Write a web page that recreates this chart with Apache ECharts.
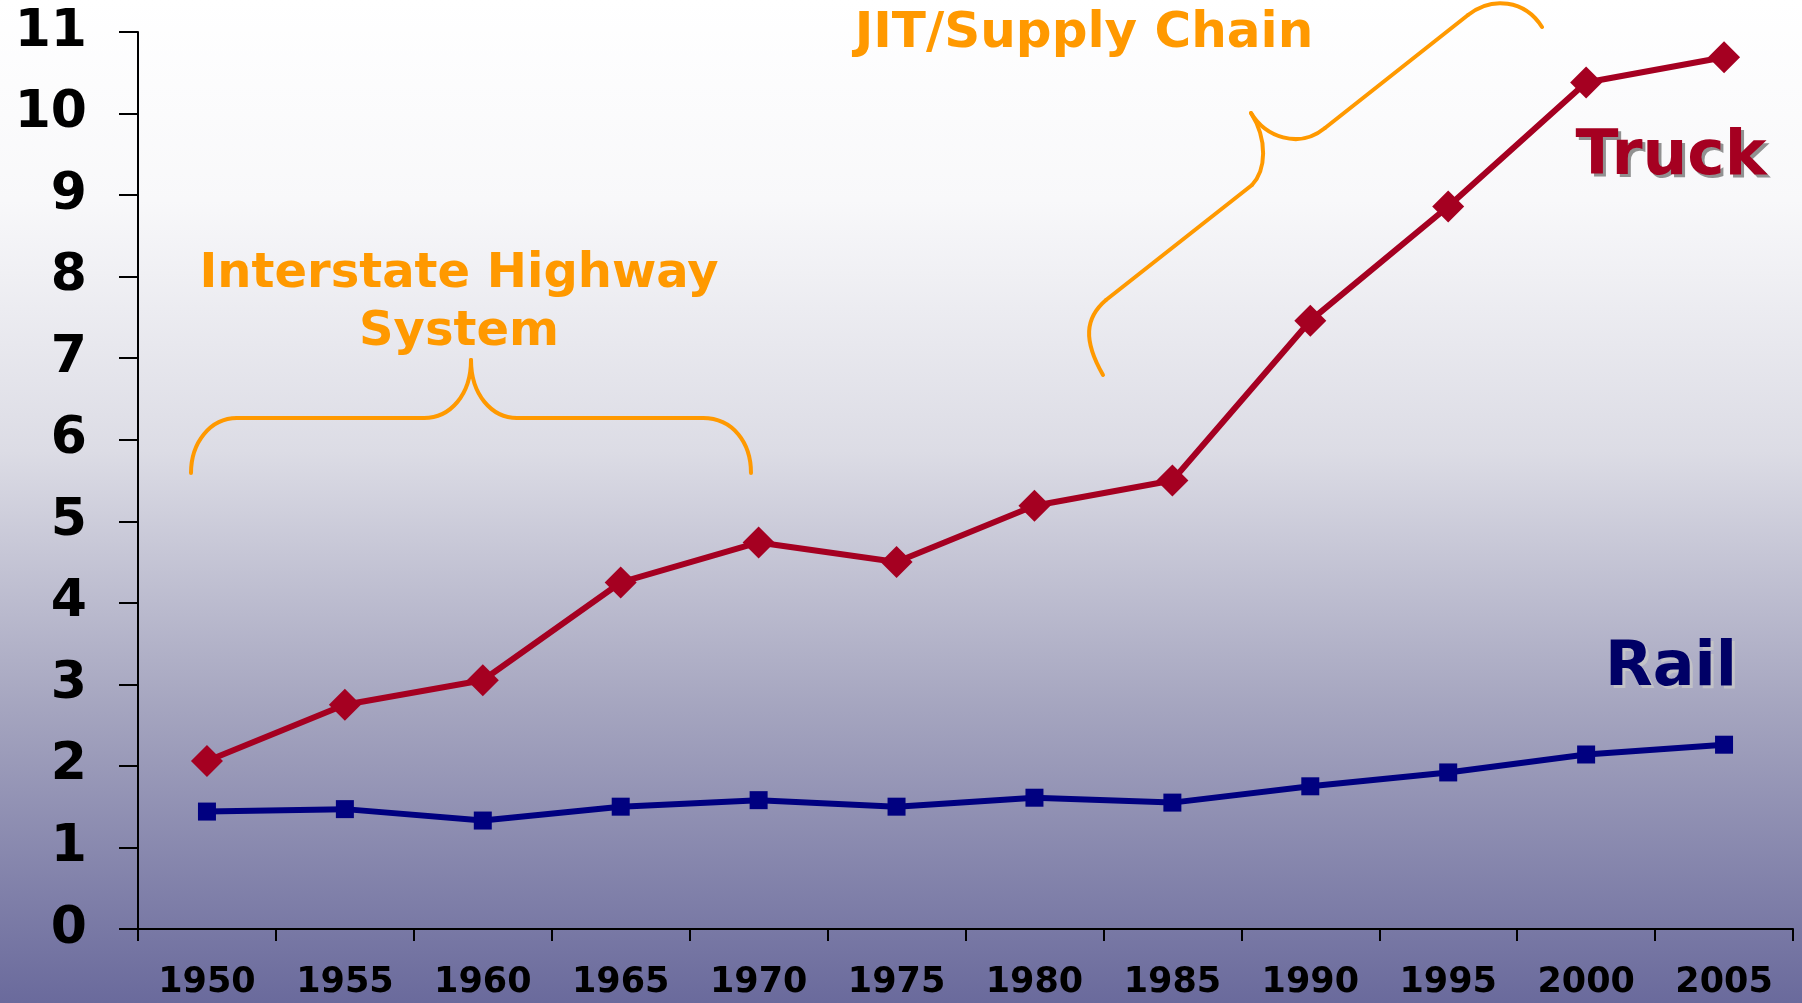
<!DOCTYPE html>
<html>
<head>
<meta charset="utf-8">
<script src="https://cdn.jsdelivr.net/npm/echarts@6/dist/echarts.min.js"></script>
<style>
  html, body { margin: 0; padding: 0; }
  #chart { width: 1802px; height: 1003px; }
</style>
</head>
<body>
<div id="chart"></div>
<script>
const years = ['1950','1955','1960','1965','1970','1975','1980','1985','1990','1995','2000','2005'];
const truck = [2.06, 2.75, 3.05, 4.25, 4.74, 4.50, 5.19, 5.50, 7.46, 8.86, 10.38, 10.69];
const rail  = [1.44, 1.47, 1.33, 1.50, 1.58, 1.50, 1.61, 1.55, 1.75, 1.92, 2.14, 2.26];
const yTicks = { min: 0, max: 11, interval: 1 };

const FONT = '"DejaVu Sans", Verdana, sans-serif';
const ORANGE = '#FF9900';
const chart = echarts.init(document.getElementById('chart'), null, { renderer: 'canvas' });

// Annotation brace segments (pixel space): ['L', x1,y1,x2,y2] or ['C', x1,y1,cx1,cy1,cx2,cy2,x2,y2]
const braceA = [
  ['C', 191,473, 191,443, 210,418, 237,418],
  ['L', 237,418, 424,418],
  ['C', 424,418, 450,418, 471,395, 471,360],
  ['C', 471,360, 471,395, 492,418, 517,418],
  ['L', 517,418, 703,418],
  ['C', 703,418, 733,418, 751,443, 751,473]
];
const braceB = [
  ['C', 1103,375, 1083,340, 1085,318, 1106,300],
  ['L', 1106,300, 1252,185],
  ['C', 1252,185, 1266,170, 1268,140, 1251,113],
  ['C', 1251,113, 1265,136, 1298,150, 1325,128],
  ['L', 1325,128, 1468,15],
  ['C', 1468,15, 1492,-4, 1525,0, 1542,27]
];
function braceElems(segs) {
  const st = { fill: null, stroke: ORANGE, lineWidth: 4, lineCap: 'round' };
  return segs.map(s => s[0] === 'L'
    ? { type: 'line', z: 10, shape: { x1: s[1], y1: s[2], x2: s[3], y2: s[4] }, style: st }
    : { type: 'bezierCurve', z: 10, shape: { x1: s[1], y1: s[2], cpx1: s[3], cpy1: s[4], cpx2: s[5], cpy2: s[6], x2: s[7], y2: s[8] }, style: st });
}

chart.setOption({
  animation: false,
  backgroundColor: {
    type: 'linear', x: 0, y: 0, x2: 0, y2: 1,
    colorStops: [
      { offset: 0, color: '#FFFFFF' },
      { offset: 0.2, color: '#F8F8FA' },
      { offset: 0.45, color: '#DCDCE5' },
      { offset: 0.7, color: '#A6A6C0' },
      { offset: 1, color: '#6A6A9C' }
    ]
  },
  grid: { left: 138, right: 9, top: 32, bottom: 74, containLabel: false },
  xAxis: {
    type: 'category',
    data: years,
    boundaryGap: true,
    axisLine: { show: true, lineStyle: { color: '#000', width: 2 } },
    axisTick: { show: true, length: 12, interval: 0, lineStyle: { color: '#000', width: 2 } },
    axisLabel: { interval: 0, margin: 36, color: '#000', fontSize: 35, fontWeight: 'bold', fontFamily: FONT },
    splitLine: { show: false }
  },
  yAxis: {
    type: 'value',
    min: yTicks.min, max: yTicks.max, interval: yTicks.interval,
    axisLine: { show: true, lineStyle: { color: '#000', width: 2 } },
    axisTick: { show: true, length: 19, lineStyle: { color: '#000', width: 2 } },
    axisLabel: { margin: 51, color: '#000', fontSize: 52, fontWeight: 'bold', fontFamily: FONT },
    splitLine: { show: false }
  },
  series: [
    {
      name: 'Truck', type: 'line', data: truck,
      symbol: 'diamond', symbolSize: [32, 32],
      lineStyle: { color: '#A50021', width: 6 },
      itemStyle: { color: '#A50021' },
      z: 3
    },
    {
      name: 'Rail', type: 'line', data: rail,
      symbol: 'rect', symbolSize: [18, 18],
      lineStyle: { color: '#000080', width: 6 },
      itemStyle: { color: '#000080' },
      z: 3
    }
  ],
  graphic: [
    { type: 'text', x: 1674, y: 161, z: 9,
      style: { text: 'Truck', fill: 'rgba(110,110,110,0.75)', font: 'bold 63px ' + FONT, textAlign: 'center', textVerticalAlign: 'middle' } },
    { type: 'text', x: 1671, y: 158, z: 10,
      style: { text: 'Truck', fill: '#A50021', font: 'bold 63px ' + FONT, textAlign: 'center', textVerticalAlign: 'middle' } },
    { type: 'text', x: 1674, y: 672, z: 9,
      style: { text: 'Rail', fill: 'rgba(200,200,200,0.8)', font: 'bold 62px ' + FONT, textAlign: 'center', textVerticalAlign: 'middle' } },
    { type: 'text', x: 1671, y: 669, z: 10,
      style: { text: 'Rail', fill: '#000066', font: 'bold 62px ' + FONT, textAlign: 'center', textVerticalAlign: 'middle' } },
    { type: 'text', x: 459, y: 275, z: 10,
      style: { text: 'Interstate Highway', fill: ORANGE, font: 'bold 48px ' + FONT, textAlign: 'center', textVerticalAlign: 'middle' } },
    { type: 'text', x: 459, y: 333, z: 10,
      style: { text: 'System', fill: ORANGE, font: 'bold 48px ' + FONT, textAlign: 'center', textVerticalAlign: 'middle' } },
    { type: 'text', x: 1084, y: 34, z: 10,
      style: { text: 'JIT/Supply Chain', fill: ORANGE, font: 'bold 50px ' + FONT, textAlign: 'center', textVerticalAlign: 'middle' } }
  ].concat(braceElems(braceA), braceElems(braceB))
});
</script>
</body>
</html>
